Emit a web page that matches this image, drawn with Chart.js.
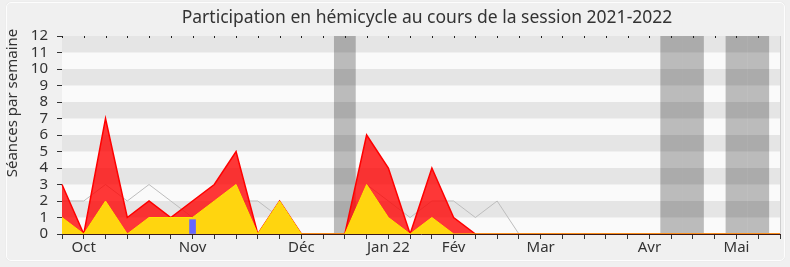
<!DOCTYPE html>
<html>
<head>
<meta charset="utf-8">
<script src="https://cdn.jsdelivr.net/npm/chart.js@4/dist/chart.umd.min.js"></script>
<style>
  html, body { margin: 0; padding: 0; background: #f0f0f0; }
  #wrap { position: relative; width: 790px; height: 267px; }
  #frame {
    position: absolute; left: 6px; top: 2px; width: 777px; height: 257px;
    border: 1px solid #fdfdfd; border-radius: 5px; box-shadow: 0 0 1px #d8d8d8;
  }
  canvas { position: absolute; left: 0; top: 0; }
</style>
</head>
<body>
<div id="wrap">
  <div id="frame"></div>
  <canvas id="chart" width="790" height="267"></canvas>
</div>
<script>
// one entry per week, Sept 2021 -> May 2022
const weekLabels = ['', 'Oct', '', '', '', '', 'Nov', '', '', '', '', 'Déc', '', '', '', 'Jan 22', '', '',
  'Fév', '', '', '', 'Mar', '', '', '', '', 'Avr', '', '', '', 'Mai', '', ''];

const presences = [3, 0, 7, 1, 2, 1, 2, 3, 5, 0, 2, 0, 0, 0, 6, 4, 0, 4, 1, 0,
  0, 0, 0, 0, 0, 0, 0, 0, 0, 0, 0, 0, 0, 0];
const interventions = [1, 0, 2, 0, 1, 1, 1, 2, 3, 0, 2, 0, 0, 0, 3, 1, 0, 1, 0, 0,
  0, 0, 0, 0, 0, 0, 0, 0, 0, 0, 0, 0, 0, 0];
const medianeDeputes = [2, 2, 3, 2, 3, 2, 1, 2, 2, 2, 1, 0, 0, 0, 3, 2, 1, 2, 2, 1,
  2, 0, 0, 0, 0, 0, 0, 0, 0, 0, 0, 0, 0, 0];
const questionsOrales = [null, null, null, null, null, null, 0.87, null, null, null, null, null, null, null, null, null, null,
  null, null, null, null, null, null, null, null, null, null, null, null, null, null, null, null, null];
const vacances = [null, null, null, null, null, null, null, null, null, null, null, null, null, 12, null, null, null,
  null, null, null, null, null, null, null, null, null, null, null, 12, 12, null, 12, 12, null];

const titleText = 'Participation en hémicycle au cours de la session 2021-2022';
const yTitleText = 'Séances par semaine';
const FONT = '"Noto Sans", sans-serif';

// alternating horizontal stripes, titles, top tick marks, right edge
const backdrop = {
  id: 'backdrop',
  beforeDatasetsDraw(chart) {
    const { ctx, chartArea: a, scales: { y } } = chart;
    ctx.save();
    ctx.fillStyle = '#fafafa';
    ctx.fillRect(a.left, a.top, a.right - a.left, a.bottom - a.top);
    ctx.fillStyle = '#e5e5e5';
    for (let v = 1; v < 12; v += 2) {
      const y1 = y.getPixelForValue(v + 1), y0 = y.getPixelForValue(v);
      ctx.fillRect(a.left, y1, a.right - a.left, y0 - y1);
    }
    ctx.restore();
  },
  afterDraw(chart) {
    const { ctx, chartArea: a, scales: { x } } = chart;
    ctx.save();
    ctx.fillStyle = '#222';
    x.ticks.forEach((t, i) => {
      const px = Math.round(x.getPixelForTick(i));
      ctx.fillRect(px, a.top, 1, 2);
    });
    ctx.strokeStyle = '#cfcfcf';
    ctx.beginPath();
    ctx.moveTo(a.right + 0.5, a.top);
    ctx.lineTo(a.right + 0.5, a.bottom);
    ctx.stroke();

    ctx.fillStyle = '#333';
    ctx.textAlign = 'center';
    ctx.textBaseline = 'middle';
    ctx.font = '17.5px ' + FONT;
    ctx.fillText(titleText, 427, 18);

    ctx.translate(13, 103);
    ctx.rotate(-Math.PI / 2);
    ctx.font = '15px ' + FONT;
    ctx.fillText(yTitleText, 0, 0);
    ctx.restore();
  }
};

new Chart(document.getElementById('chart'), {
  type: 'line',
  data: {
    labels: weekLabels,
    datasets: [
      {
        type: 'bar', data: questionsOrales, backgroundColor: '#6666ff',
        barThickness: 6, grouped: false
      },
      {
        data: interventions, borderColor: '#ffe600', borderWidth: 1,
        backgroundColor: '#ffd50f', fill: 'origin', pointRadius: 0, tension: 0
      },
      {
        data: presences, borderColor: '#ff0000', borderWidth: 1.5,
        backgroundColor: 'rgba(255,0,0,0.78)', fill: 'origin', pointRadius: 0, tension: 0
      },
      {
        data: medianeDeputes, borderColor: '#bdbdbd', borderWidth: 1,
        fill: false, pointRadius: 0, tension: 0
      },
      {
        type: 'bar', data: vacances, backgroundColor: 'rgba(0,0,0,0.25)',
        barPercentage: 1, categoryPercentage: 1, grouped: false, inflateAmount: 0
      }
    ]
  },
  options: {
    responsive: false,
    animation: false,
    layout: { padding: { left: 7, right: 10, top: 36, bottom: 10 } },
    plugins: {
      legend: { display: false },
      tooltip: { enabled: false },
      title: { display: false }
    },
    scales: {
      x: {
        offset: false,
        grid: { display: true, drawOnChartArea: false, tickLength: 5, color: '#333', offset: false },
        border: { color: '#3a1a1a' },
        ticks: {
          autoSkip: false, maxRotation: 0, padding: 0,
          color: '#333', font: { family: FONT, size: 15 }
        }
      },
      y: {
        min: 0, max: 12,
        afterFit(s) { s.width = 55; },
        grid: { display: true, drawOnChartArea: false, tickLength: 5, color: '#333' },
        border: { color: '#333' },
        ticks: {
          stepSize: 1, autoSkip: false, padding: 9,
          color: '#333', font: { family: FONT, size: 15 }
        }
      }
    }
  },
  plugins: [backdrop]
});
</script>
</body>
</html>
